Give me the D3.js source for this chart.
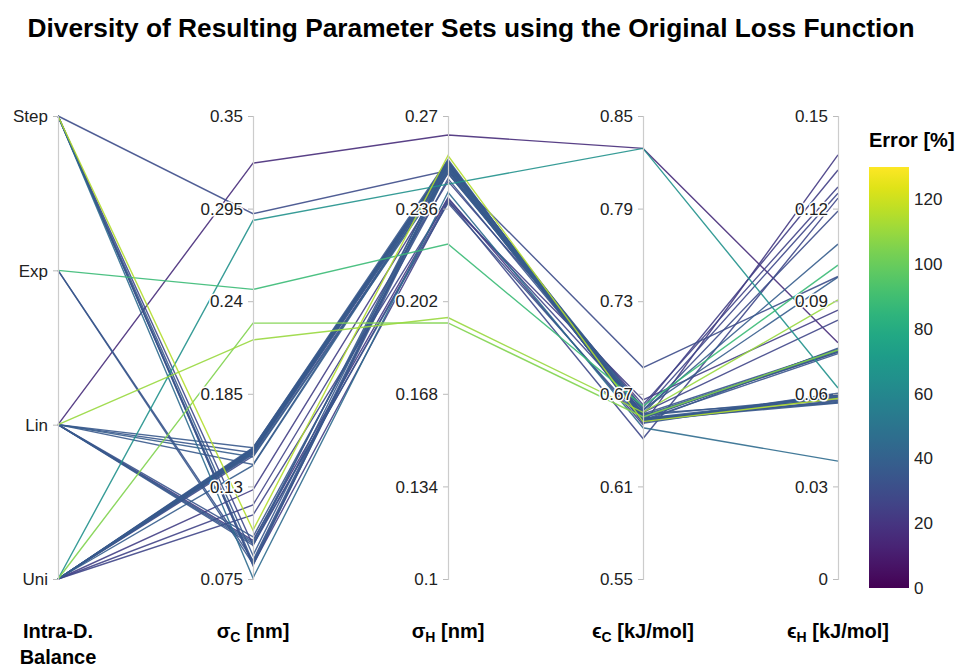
<!DOCTYPE html>
<meta charset="utf-8" />
<style>
  body { margin: 0; background: #fff; }
  svg { font-family: "Liberation Sans", Arial, sans-serif; }
  .title { font-size: 26.3px; font-weight: bold; fill: #000; }
  .tick text { font-size: 17px; fill: #222; stroke: #fff; stroke-width: 3px; paint-order: stroke; stroke-linejoin: round; }
  .dimlabel { font-size: 20px; font-weight: bold; fill: #000; }
  .cbtitle { font-size: 20px; font-weight: bold; fill: #000; }
  .cbtick { font-size: 17px; fill: #222; }
</style>
<svg width="961" height="666"></svg>
<script src="https://d3js.org/d3.v7.min.js"></script>
<script>
  // one entry per parameter set
  var balance = ["Lin","Uni","Step","Exp","Lin","Uni","Step","Step","Step","Step",
    "Step","Step","Exp","Exp","Lin","Lin","Lin","Lin","Lin","Lin",
    "Lin","Lin","Uni","Uni","Uni","Uni","Uni","Uni","Uni","Uni",
    "Uni","Uni","Uni","Uni","Uni","Step","Uni","Lin","Uni","Uni"];
  var sigmaC = [0.322,0.288,0.292,0.247,0.217,0.227,0.104,0.0756,0.085,0.083,
    0.095,0.089,0.084,0.086,0.153,0.150,0.1475,0.143,0.100,0.098,
    0.096,0.097,0.153,0.152,0.151,0.150,0.1505,0.149,0.152,0.148,
    0.1515,0.128,0.119,0.113,0.1425,0.0835,0.151,0.095,0.1495,0.1525];
  var sigmaH = [0.263,0.245,0.250,0.223,0.196,0.194,0.2555,0.242,0.251,0.252,
    0.239,0.253,0.250,0.252,0.253,0.251,0.249,0.252,0.247,0.240,
    0.238,0.250,0.254,0.253,0.252,0.2535,0.252,0.2515,0.253,0.250,
    0.2525,0.249,0.246,0.2395,0.251,0.2385,0.2528,0.2525,0.2532,0.2522];
  var epsC = [0.829,0.829,0.687,0.662,0.658,0.655,0.652,0.648,0.655,0.653,
    0.641,0.656,0.654,0.657,0.652,0.655,0.659,0.653,0.657,0.650,
    0.652,0.654,0.651,0.653,0.654,0.652,0.655,0.656,0.657,0.659,
    0.653,0.661,0.663,0.658,0.660,0.666,0.654,0.652,0.652,0.653];
  var epsH = [0.0765,0.0619,0.098,0.1017,0.0904,0.0742,0.0585,0.0382,0.0735,0.0595,
    0.1234,0.0590,0.0745,0.0580,0.0600,0.0735,0.1085,0.0570,0.0742,0.1374,
    0.0578,0.0592,0.0598,0.0588,0.0575,0.0602,0.0740,0.0738,0.1192,0.1250,
    0.0585,0.1325,0.127,0.0839,0.0978,0.0871,0.0572,0.0748,0.0596,0.0730];
  var error = [16,65,30,88,110,105,115,45,35,34,
    28,36,35,34,36,35,38,36,34,22,
    33,37,36,35,36,35,34,36,30,28,
    37,24,26,27,38,24,35,35,36,34];

  var balanceCats = ["Uni","Lin","Exp","Step"];
  var sigmaCTicks = [0.075,0.13,0.185,0.24,0.295,0.35];
  var sigmaHTicks = [0.1,0.134,0.168,0.202,0.236,0.27];
  var epsCTicks = [0.55,0.61,0.67,0.73,0.79,0.85];
  var epsHTicks = [0,0.03,0.06,0.09,0.12,0.15];
  var errorTicks = [0,20,40,60,80,100,120];
  var errorMax = 130;

  var svg = d3.select("svg");
  var yTop = 116, yBottom = 579;

  var x = d3.scalePoint().domain(d3.range(5)).range([58, 838]);

  var fmtNum = function(d) { return String(d); };
  var dims = [
    { values: balance, ticks: balanceCats, fmt: function(d) { return d; },
      scale: d3.scalePoint().domain(balanceCats).range([yBottom, yTop]) },
    { values: sigmaC, ticks: sigmaCTicks, fmt: fmtNum,
      scale: d3.scaleLinear().domain([0.075, 0.35]).range([yBottom, yTop]) },
    { values: sigmaH, ticks: sigmaHTicks, fmt: fmtNum,
      scale: d3.scaleLinear().domain([0.1, 0.27]).range([yBottom, yTop]) },
    { values: epsC, ticks: epsCTicks, fmt: fmtNum,
      scale: d3.scaleLinear().domain([0.55, 0.85]).range([yBottom, yTop]) },
    { values: epsH, ticks: epsHTicks, fmt: fmtNum,
      scale: d3.scaleLinear().domain([0, 0.15]).range([yBottom, yTop]) }
  ];

  var color = d3.scaleSequential(d3.interpolateViridis).domain([0, errorMax]);

  // title
  svg.append("text").attr("class", "title")
    .attr("x", 471).attr("y", 37).attr("text-anchor", "middle")
    .text("Diversity of Resulting Parameter Sets using the Original Loss Function");

  // axis lines under the data lines, labels on top
  var axisGroups = dims.map(function(dim, i) {
    var g = svg.append("g").attr("transform", "translate(" + x(i) + ",0)");
    g.call(d3.axisLeft(dim.scale).tickValues(dim.ticks).tickFormat(dim.fmt)
      .tickSize(5).tickPadding(5));
    g.select(".domain").attr("stroke", "#ccc").attr("stroke-width", 1.2);
    g.selectAll(".tick line").attr("stroke", "#bbb");
    g.selectAll(".tick text").attr("dy", "0.34em").attr("font-size", null).attr("font-family", null);
    return g;
  });

  // lines, drawn low error first
  var order = d3.range(error.length).sort(function(a, b) { return error[a] - error[b]; });
  var line = d3.line();
  svg.append("g").selectAll("path")
    .data(order)
    .join("path")
    .attr("d", function(k) {
      return line(dims.map(function(dim, i) { return [x(i), dim.scale(dim.values[k])]; }));
    })
    .attr("fill", "none")
    .attr("stroke", function(k) { return color(error[k]); })
    .attr("stroke-width", 1.4)
    .attr("stroke-opacity", 0.9);

  // bring tick labels above the lines
  axisGroups.forEach(function(g) { g.raise(); g.select(".domain").lower(); });

  // dimension labels
  var labelY = 638;
  var lab0 = svg.append("text").attr("class", "dimlabel")
    .attr("x", x(0)).attr("y", labelY).attr("text-anchor", "middle");
  lab0.append("tspan").attr("x", x(0)).text("Intra-D.");
  lab0.append("tspan").attr("x", x(0)).attr("dy", 26).text("Balance");

  var subLabels = [["σ", "C", " [nm]"], ["σ", "H", " [nm]"], ["ϵ", "C", " [kJ/mol]"], ["ϵ", "H", " [kJ/mol]"]];
  subLabels.forEach(function(p, j) {
    var t = svg.append("text").attr("class", "dimlabel")
      .attr("x", x(j + 1)).attr("y", labelY).attr("text-anchor", "middle");
    t.append("tspan").text(p[0]);
    t.append("tspan").attr("dy", 4).attr("font-size", "14px").text(p[1]);
    t.append("tspan").attr("dy", -4).text(p[2]);
  });

  // colorbar
  var cbX = 869, cbW = 40, cbTop = 167, cbBottom = 588;
  var cbScale = d3.scaleLinear().domain([0, errorMax]).range([cbBottom, cbTop]);
  var grad = svg.append("defs").append("linearGradient")
    .attr("id", "cbgrad").attr("x1", 0).attr("x2", 0).attr("y1", 1).attr("y2", 0);
  d3.range(0, 1.0001, 0.05).forEach(function(t) {
    grad.append("stop").attr("offset", t).attr("stop-color", d3.interpolateViridis(t));
  });
  svg.append("rect").attr("x", cbX).attr("y", cbTop).attr("width", cbW)
    .attr("height", cbBottom - cbTop).attr("fill", "url(#cbgrad)");
  svg.append("g").selectAll("text").data(errorTicks).join("text")
    .attr("class", "cbtick")
    .attr("x", cbX + cbW + 5).attr("y", function(d) { return cbScale(d); })
    .attr("dy", "0.35em")
    .text(function(d) { return d; });
  svg.append("text").attr("class", "cbtitle")
    .attr("x", 869).attr("y", 147).text("Error [%]");
</script>
